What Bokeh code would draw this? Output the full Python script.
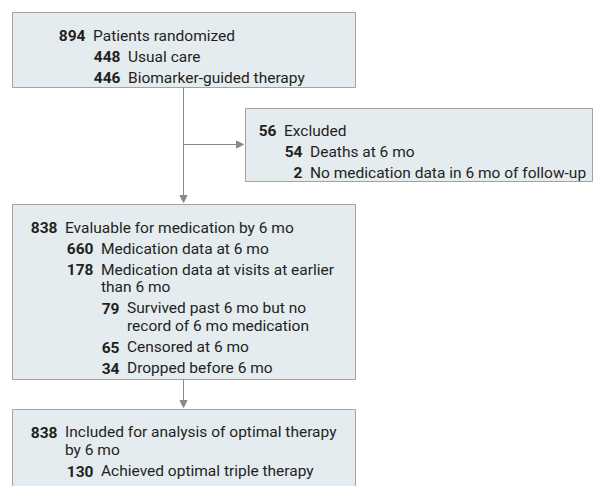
from bokeh.plotting import figure
from bokeh.models import Range1d, Arrow, NormalHead
from bokeh.core.properties import value
from bokeh.embed import file_html
from bokeh.resources import INLINE

# ---------------- data ----------------
box1_counts = ["894", "448", "446"]
box1_labels = [["Patients randomized"], ["Usual care"], ["Biomarker-guided therapy"]]
box1_levels = [0, 1, 1]

box2_counts = ["56", "54", "2"]
box2_labels = [["Excluded"], ["Deaths at 6 mo"], ["No medication data in 6 mo of follow-up"]]
box2_levels = [0, 1, 1]

box3_counts = ["838", "660", "178", "79", "65", "34"]
box3_labels = [["Evaluable for medication by 6 mo"], ["Medication data at 6 mo"],
               ["Medication data at visits at earlier", "than 6 mo"],
               ["Survived past 6 mo but no", "record of 6 mo medication"],
               ["Censored at 6 mo"], ["Dropped before 6 mo"]]
box3_levels = [0, 1, 1, 2, 2, 2]

box4_counts = ["838", "130"]
box4_labels = [["Included for analysis of optimal therapy", "by 6 mo"], ["Achieved optimal triple therapy"]]
box4_levels = [0, 1]

# ---------------- layout (pixel coordinates of the figure) ----------------
W, H = 593, 486
FILL = "#E5ECF0"
BORDER = "#A3A3A3"
LINEC = "#8A8A8A"
TXT = "#231F20"
FONT = "Roboto"
FS = "15.5px"
ITEM_GAP = 21.0
WRAP_GAP = 17.8

boxes = [
    dict(l=12, t=12, r=355, b=87, y0=35.0, nr=[85, 120], counts=box1_counts, labels=box1_labels, levels=box1_levels),
    dict(l=245, t=108, r=W - 1, b=181, y0=130.0, nr=[276, 302], counts=box2_counts, labels=box2_labels, levels=box2_levels),
    dict(l=12, t=204, r=355, b=379, y0=227.0, nr=[57, 93, 119], counts=box3_counts, labels=box3_labels, levels=box3_levels),
    dict(l=12, t=409, r=355, b=H + 20, y0=431.7, nr=[57, 93], counts=box4_counts, labels=box4_labels, levels=box4_levels),
]

p = figure(width=W, height=H, output_backend="svg", toolbar_location=None,
           x_range=Range1d(0, W), y_range=Range1d(H, 0),
           min_border=0, outline_line_color=None)
p.axis.visible = False
p.grid.visible = False
p.background_fill_color = "white"
p.border_fill_color = "white"

p.quad(left=[b["l"] for b in boxes], right=[b["r"] for b in boxes],
       top=[b["t"] for b in boxes], bottom=[b["b"] for b in boxes],
       fill_color=FILL, line_color=BORDER, line_width=1)

cx = 183
ay = (boxes[1]["t"] + boxes[1]["b"]) / 2 - 0.5
head = dict(size=7, fill_color=LINEC, line_color=LINEC, line_width=1)
p.add_layout(Arrow(end=NormalHead(**head), x_start=cx, y_start=boxes[0]["b"], x_end=cx,
                   y_end=boxes[2]["t"] - 2, line_color=LINEC, line_width=1))
p.add_layout(Arrow(end=NormalHead(**head), x_start=cx, y_start=ay, x_end=boxes[1]["l"] - 2,
                   y_end=ay, line_color=LINEC, line_width=1))
p.add_layout(Arrow(end=NormalHead(**head), x_start=cx, y_start=boxes[2]["b"], x_end=cx,
                   y_end=boxes[3]["t"] - 2, line_color=LINEC, line_width=1))

nx, ny, nt = [], [], []
lx, ly, lt = [], [], []
for b in boxes:
    y = b["y0"]
    for c, lines, lev in zip(b["counts"], b["labels"], b["levels"]):
        nx.append(b["nr"][lev]); ny.append(y); nt.append(c)
        for k, line in enumerate(lines):
            if k > 0:
                y += WRAP_GAP
            lx.append(b["nr"][lev] + 7.5); ly.append(y); lt.append(line)
        y += ITEM_GAP

p.text(x=nx, y=ny, text=nt, text_align="right", text_baseline="alphabetic",
       text_font=value(FONT), text_font_style="bold", text_font_size=FS, text_color=TXT)
p.text(x=lx, y=ly, text=lt, text_align="left", text_baseline="alphabetic",
       text_font=value(FONT), text_font_size=FS, text_color=TXT)

open("out.html", "w").write(file_html(p, INLINE))
